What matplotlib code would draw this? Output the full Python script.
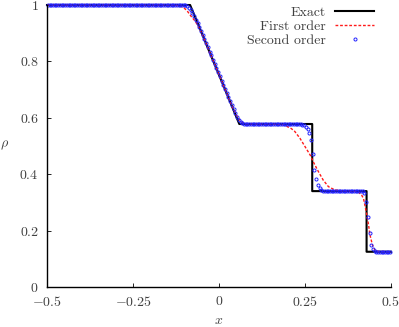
import numpy as np
import matplotlib
matplotlib.use("Agg")
import matplotlib.pyplot as plt

plt.rcParams['font.family'] = 'cmr10'
plt.rcParams['mathtext.fontset'] = 'cm'
plt.rcParams['axes.formatter.use_mathtext'] = True
plt.rcParams['font.size'] = 10

# exact solution (rarefaction, contact, shock)
x_exact = [-0.5, -0.084, -0.05, -0.02, 0.01, 0.04, 0.059, 0.271, 0.271, 0.429, 0.429, 0.5]
rho_exact = [1.0, 1.0, 0.900, 0.811, 0.723, 0.634, 0.578, 0.578, 0.340, 0.340, 0.125, 0.125]

# first order scheme
x_first = [-0.5, -0.14, -0.12, -0.11, -0.10, -0.09, -0.08, -0.07, -0.06, -0.05,
           -0.02, 0.01, 0.03, 0.04, 0.05, 0.06, 0.07, 0.08, 0.10, 0.18,
           0.19, 0.20, 0.21, 0.22, 0.235, 0.25, 0.265, 0.274, 0.289, 0.303,
           0.318, 0.337, 0.36, 0.39, 0.405, 0.415, 0.42, 0.427, 0.434, 0.439,
           0.446, 0.453, 0.463, 0.5]
rho_first = [1.0, 1.0, 0.998, 0.995, 0.988, 0.975, 0.958, 0.944, 0.924, 0.899,
             0.811, 0.723, 0.664, 0.636, 0.611, 0.592, 0.582, 0.579, 0.578, 0.577,
             0.574, 0.568, 0.562, 0.552, 0.528, 0.498, 0.468, 0.444, 0.409, 0.379,
             0.356, 0.344, 0.341, 0.340, 0.337, 0.325, 0.314, 0.273, 0.226, 0.184,
             0.149, 0.131, 0.126, 0.125]

# second order scheme, 200 cells on [-0.5, 0.5]
n_cells = 200
rho_second = (
    [1.0] * 78
    + [1.000, 1.000, 0.999, 0.996, 0.990, 0.982, 0.972, 0.960, 0.948, 0.935,
       0.922, 0.908, 0.894, 0.880, 0.865, 0.850, 0.835, 0.821, 0.806, 0.791,
       0.777, 0.762, 0.747, 0.732, 0.718, 0.703, 0.689, 0.674, 0.660, 0.645,
       0.631, 0.618, 0.604, 0.592, 0.584, 0.580, 0.579]
    + [0.578] * 32
    + [0.577, 0.575, 0.573, 0.569, 0.560, 0.545, 0.522, 0.470, 0.415, 0.382,
       0.360, 0.350, 0.345, 0.342, 0.341]
    + [0.340] * 21
    + [0.339, 0.334, 0.300, 0.250, 0.190, 0.150, 0.133, 0.127]
    + [0.125] * 9
)
x_second = -0.5 + (np.arange(n_cells) + 0.5) / n_cells

text_col = '#404040'

fig = plt.figure(figsize=(3.99, 3.27), dpi=100)
ax = fig.add_axes([47 / 399, 40 / 327, 344 / 399, 282 / 327])

ax.plot(x_exact, rho_exact, color='black', lw=1.5, label='Exact', clip_on=False)
ax.plot(x_first, rho_first, color='#ff1a1a', lw=1.0, ls=(0, (2, 1.3)),
        label='First order', clip_on=False)
ax.plot(x_second, rho_second, ls='none', marker='o', ms=2.2, mfc='none',
        mec='#2222ff', mew=0.7, label='Second order', clip_on=False)

ax.set_xlim(-0.5, 0.5)
ax.set_ylim(0, 1)
ax.set_xticks([-0.5, -0.25, 0, 0.25, 0.5])
ax.set_yticks([0, 0.2, 0.4, 0.6, 0.8, 1])
ax.set_xticklabels(['$-0.5$', '$-0.25$', '$0$', '$0.25$', '$0.5$'])
ax.set_yticklabels(['$0$', '$0.2$', '$0.4$', '$0.6$', '$0.8$', '$1$'])
ax.tick_params(direction='in', length=3, width=0.6, colors=text_col,
               labelsize=10, pad=6)
ax.tick_params(axis='both', color='black')
for s in ['top', 'right']:
    ax.spines[s].set_visible(False)
for s in ['left', 'bottom']:
    ax.spines[s].set_linewidth(1.0)

ax.set_xlabel('$x$', color=text_col, fontsize=10, labelpad=4)
ax.set_ylabel(r'$\rho$', color=text_col, fontsize=10, rotation=0,
              ha='center', va='center')
ax.yaxis.set_label_coords(-0.122, 0.504)

leg = ax.legend(loc='upper right', bbox_to_anchor=(0.951, 0.995), frameon=False,
                markerfirst=False, borderpad=0, borderaxespad=0,
                handlelength=2.8, handletextpad=0.7, labelspacing=0.1,
                fontsize=10)
for t in leg.get_texts():
    t.set_color(text_col)

fig.savefig('out.png', dpi=100)
